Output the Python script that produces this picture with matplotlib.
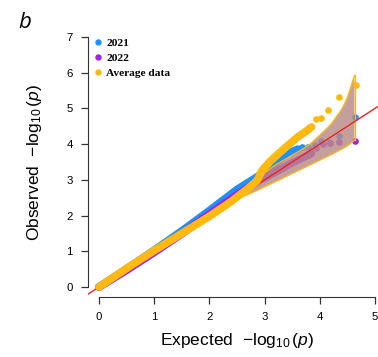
import matplotlib
matplotlib.use('Agg')
import matplotlib.pyplot as plt
from matplotlib.lines import Line2D

# 2021 dense part of the QQ track and the sparse tail points
x_2021 = [0.0, 0.5, 1.0, 1.5, 2.0, 2.5, 2.8, 3.0, 3.2, 3.4, 3.6]
y_2021 = [0.0, 0.51, 1.03, 1.57, 2.14, 2.73, 3.02, 3.22, 3.47, 3.72, 3.86]
tail_x_2021 = [3.67, 3.79, 3.91, 4.03, 4.16, 4.34, 4.64]
tail_y_2021 = [3.92, 3.93, 3.97, 4.09, 4.06, 4.22, 4.76]

# 2022
x_2022 = [0.0, 0.5, 1.0, 1.5, 2.0, 2.5, 2.9, 3.2, 3.5, 3.85]
y_2022 = [0.0, 0.47, 0.97, 1.49, 2.04, 2.58, 2.98, 3.22, 3.48, 3.74]
tail_x_2022 = [3.94, 4.06, 4.18, 4.34, 4.63]
tail_y_2022 = [3.88, 4.00, 4.02, 4.05, 4.09]

# Average data
x_avg = [0.0, 0.5, 1.0, 1.5, 2.0, 2.4, 2.7, 2.86, 2.95, 3.1, 3.3, 3.45, 3.6, 3.75, 3.85]
y_avg = [0.0, 0.52, 1.02, 1.50, 1.98, 2.40, 2.76, 2.97, 3.25, 3.52, 3.80, 4.0, 4.2, 4.36, 4.48]
tail_x_avg = [3.94, 4.03, 4.15, 4.34, 4.65]
tail_y_avg = [4.70, 4.72, 4.97, 5.33, 5.65]

# confidence band
band_x = [2.35, 2.8, 3.2, 3.6, 3.8, 4.0, 4.2, 4.4, 4.5, 4.63]
band_lo = [2.36, 2.66, 2.95, 3.25, 3.40, 3.55, 3.70, 3.86, 3.95, 4.11]
band_hi = [2.40, 2.98, 3.42, 3.78, 3.97, 4.25, 4.55, 4.98, 5.30, 5.93]

col_2021 = '#1E90FF'
col_2022 = '#A020F0'
col_avg = '#FFB90F'

plt.rcParams['font.family'] = ['Liberation Sans', 'DejaVu Sans']
plt.rcParams['mathtext.fontset'] = 'custom'
plt.rcParams['mathtext.rm'] = 'Liberation Sans'
plt.rcParams['mathtext.it'] = 'Liberation Sans:italic'


def draw():
    fig = plt.figure(figsize=(3.78, 3.57), dpi=100)
    ax = fig.add_axes([88 / 378, 60 / 357, 298 / 378, 270 / 357])

    lw_track = 5.6
    ms = 4.8
    ax.plot(x_2021, y_2021, color=col_2021, lw=lw_track, solid_capstyle='round', zorder=2)
    ax.plot(tail_x_2021, tail_y_2021, 'o', color=col_2021, ms=ms, mew=0, zorder=2)
    ax.plot(x_2022, y_2022, color=col_2022, lw=lw_track, solid_capstyle='round', zorder=2.1)
    ax.plot(tail_x_2022, tail_y_2022, 'o', color=col_2022, ms=ms, mew=0, zorder=2.1)

    # band over the 2021/2022 points, under the average points
    ax.fill_between(band_x, band_lo, band_hi, facecolor='#B98A86', alpha=0.82,
                    edgecolor='none', zorder=3)
    ax.plot(band_x, band_lo, color=col_avg, lw=0.9, zorder=3.1)
    ax.plot(band_x, band_hi, color=col_avg, lw=0.9, zorder=3.1)
    ax.plot([band_x[-1], band_x[-1]], [band_lo[-1], band_hi[-1]], color=col_avg, lw=0.9, zorder=3.1)

    ax.plot([-0.2, 5.2], [-0.2, 5.2], color='#EE2222', lw=1.0, zorder=3.5)

    ax.plot(x_avg, y_avg, color=col_avg, lw=lw_track, solid_capstyle='round', zorder=4)
    ax.plot(tail_x_avg, tail_y_avg, 'o', color=col_avg, ms=ms, mew=0, zorder=4)

    ax.set_xlim(-0.2, 5.2)
    ax.set_ylim(-0.28, 7.28)
    for s in ['top', 'right']:
        ax.spines[s].set_visible(False)
    ax.spines['left'].set_bounds(0, 7)
    ax.spines['bottom'].set_bounds(0, 5)
    ax.spines['left'].set_color('#333333')
    ax.spines['bottom'].set_color('#333333')
    ax.set_xticks(range(0, 6))
    ax.set_yticks(range(0, 8))
    ax.tick_params(length=5, width=0.9, color='#333333', labelsize=8.2, pad=6)

    ax.set_xlabel('Expected  $-\\log_{10}(p)$', fontsize=12.5, labelpad=6)
    ax.set_ylabel('Observed  $-\\log_{10}(p)$', fontsize=12.5, labelpad=16)

    handles = [Line2D([], [], marker='o', ls='', color=c, ms=4.6, mew=0)
               for c in [col_2021, col_2022, col_avg]]
    ax.legend(handles, ['2021', '2022', 'Average data'], loc='upper left',
              bbox_to_anchor=(-0.01, 0.98), frameon=False, handletextpad=0.15,
              labelspacing=0.42, borderpad=0, handlelength=1.2,
              prop={'family': 'Liberation Serif', 'weight': 'bold', 'size': 8.2})

    fig.text(18 / 378, 1 - 28 / 357, 'b', fontsize=16, style='italic',
             family='Open Sans')

    fig.savefig('out.png', dpi=100)


if __name__ == '__main__':
    draw()
